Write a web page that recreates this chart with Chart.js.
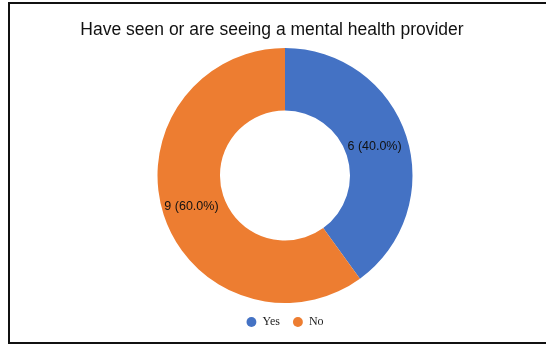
<!DOCTYPE html>
<html>
<head>
<meta charset="utf-8">
<script src="https://cdn.jsdelivr.net/npm/chart.js@4"></script>
<style>
    html, body { margin: 0; padding: 0; background: #fff; overflow: hidden; }
    #wrap { position: relative; width: 546px; height: 344px; }
    #frame {
        position: absolute; left: 8px; top: 2px; width: 600px; height: 338px;
        border: 2px solid #111; border-right: none; pointer-events: none;
    }
    canvas { position: absolute; left: 0; top: 0; }
</style>
</head>
<body>
<div id="wrap">
    <canvas id="providerChart" width="546" height="344"></canvas>
    <div id="frame"></div>
</div>
<script>
const categories = ['Yes', 'No'];
const counts = [6, 9];
const sliceColors = ['#4472C4', '#ED7D31'];
const chartTitle = 'Have seen or are seeing a mental health provider';

// title sits a bit left of the ring's centre, so it is drawn by hand
const titleText = {
    id: 'titleText',
    afterDraw(chart) {
        const { ctx } = chart;
        ctx.save();
        ctx.font = "17.5px 'Liberation Sans', Arial, sans-serif";
        ctx.fillStyle = '#111';
        ctx.textAlign = 'center';
        ctx.textBaseline = 'middle';
        ctx.fillText(chartTitle, 272, 30);
        ctx.restore();
    },
};

// draws "n (pct%)" in the middle of each ring segment
const sliceLabels = {
    id: 'sliceLabels',
    afterDatasetsDraw(chart) {
        const { ctx } = chart;
        const total = counts.reduce((a, b) => a + b, 0);
        const meta = chart.getDatasetMeta(0);
        ctx.save();
        ctx.font = "12.5px 'Liberation Sans', Arial, sans-serif";
        ctx.fillStyle = '#111';
        ctx.textAlign = 'center';
        ctx.textBaseline = 'middle';
        meta.data.forEach((arc, i) => {
            const pos = arc.tooltipPosition();
            const pct = (counts[i] / total * 100).toFixed(1);
            ctx.fillText(counts[i] + ' (' + pct + '%)', pos.x - 2, pos.y + 1);
        });
        ctx.restore();
    },
};

new Chart(document.getElementById('providerChart').getContext('2d'), {
    type: 'doughnut',
    data: {
        labels: categories,
        datasets: [{
            data: counts,
            backgroundColor: sliceColors,
            borderWidth: 0,
        }],
    },
    options: {
        responsive: false,
        animation: false,
        cutout: '51%',
        layout: { padding: { top: 48, left: 24, right: 0, bottom: 6 } },
        plugins: {
            title: { display: false },
            legend: {
                position: 'bottom',
                labels: {
                    usePointStyle: true,
                    pointStyle: 'circle',
                    boxWidth: 10,
                    boxHeight: 7,
                    padding: 13,
                    color: '#222',
                    font: { family: "'Liberation Serif', 'Times New Roman', serif", size: 12 },
                },
            },
            tooltip: { enabled: false },
        },
    },
    plugins: [sliceLabels, titleText],
});
</script>
</body>
</html>
